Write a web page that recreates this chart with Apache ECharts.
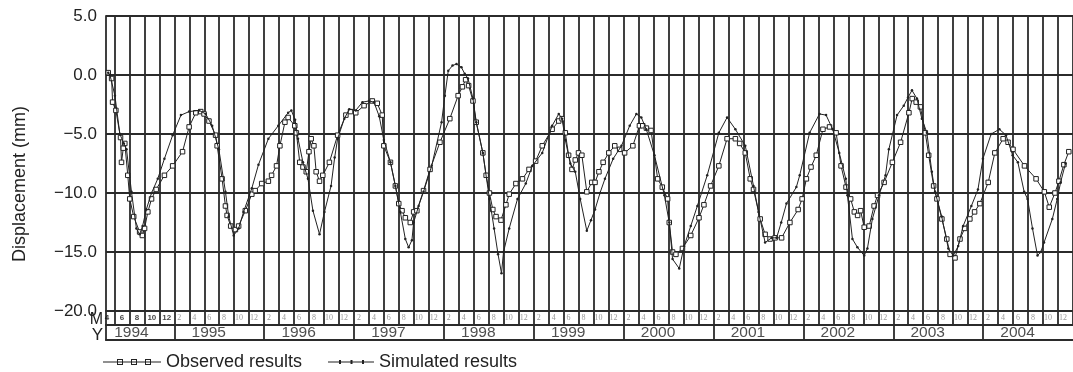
<!DOCTYPE html>
<html><head><meta charset="utf-8">
<script src="https://cdn.jsdelivr.net/npm/echarts@6/dist/echarts.min.js"></script>
<style>html,body{margin:0;padding:0;background:#fff}#c{width:1073px;height:372px}</style>
</head><body><div id="c"></div>
<script>
// x values: months since 1 Jan 1994
const years = [1994,1995,1996,1997,1998,1999,2000,2001,2002,2003,2004];
const monthLabels = ['2','4','6','8','10','12'];
const seriesNames = ['Observed results','Simulated results'];

const obsX = [3.18,3.63,3.76,4.20,4.82,4.95,5.19,5.39,5.79,6.05,6.58,7.37,7.73,8.03,8.47,8.96,9.58,10.68,11.78,13.10,
13.98,14.87,15.53,15.97,16.63,17.51,17.72,18.38,18.83,19.05,19.53,20.16,20.59,21.48,22.35,22.80,23.67,24.56,24.99,25.65,
26.10,26.77,27.20,28.09,28.30,28.75,29.18,29.62,29.98,30.28,30.64,30.94,31.39,31.83,32.71,33.81,34.91,35.53,36.23,37.34,
38.44,39.10,39.76,39.98,40.86,41.52,41.97,42.41,42.85,43.51,43.96,44.39,45.28,46.15,47.47,48.79,49.90,50.47,50.90,51.30,
51.88,52.32,53.20,53.64,54.08,54.53,54.96,55.62,56.28,56.72,57.61,58.49,59.36,60.25,61.13,62.45,63.33,63.78,64.21,64.65,
65.10,65.54,65.97,66.42,67.08,67.74,68.18,68.70,69.26,70.02,70.81,71.47,72.13,73.23,74.11,74.55,75.04,75.66,76.54,77.16,
77.87,78.09,78.53,78.98,79.85,80.96,82.06,82.72,83.61,84.71,85.81,86.92,87.49,88.24,88.90,89.34,90.23,90.89,91.55,92.22,
93.09,94.20,95.30,95.83,96.40,97.02,97.72,98.61,99.49,100.37,101.03,101.69,102.31,102.80,103.24,103.64,104.12,104.78,105.44,105.90,
106.78,107.88,108.98,110.09,110.53,111.06,111.62,112.28,112.73,113.39,113.83,114.49,115.15,115.59,116.25,116.91,117.53,118.23,118.86,119.56,
120.68,121.56,122.67,123.33,123.99,125.52,127.07,128.17,128.83,129.59,130.12,130.78,131.44];
const obsY = [0.2,-0.3,-2.3,-3.0,-5.3,-7.4,-6.2,-5.8,-8.5,-10.5,-12.0,-13.3,-13.6,-13.0,-11.6,-10.5,-9.7,-8.5,-7.7,-6.5,
-4.4,-3.2,-3.1,-3.3,-3.9,-5.1,-6.0,-8.8,-11.1,-11.9,-12.8,-13.1,-12.8,-11.5,-10.1,-9.8,-9.2,-9.0,-8.5,-7.7,
-6.0,-4.0,-3.6,-4.3,-4.9,-7.4,-7.8,-8.2,-6.5,-5.4,-6.0,-8.2,-9.0,-8.5,-7.4,-5.1,-3.4,-3.1,-3.2,-2.6,
-2.2,-2.4,-3.4,-6.0,-7.4,-9.4,-10.9,-11.5,-12.1,-12.5,-11.6,-11.5,-9.8,-8.0,-5.7,-3.7,-1.75,-1.0,-0.4,-0.9,
-2.2,-4.0,-6.6,-8.5,-10.0,-11.4,-12.0,-12.3,-11.0,-10.1,-9.2,-8.8,-8.0,-7.3,-6.0,-4.6,-3.9,-3.7,-4.9,-6.8,
-8.0,-7.2,-6.6,-6.8,-9.9,-9.1,-9.1,-8.2,-7.4,-6.6,-6.0,-6.3,-6.6,-6.0,-4.3,-4.3,-4.5,-4.7,-8.8,-9.5,
-10.5,-12.5,-15.0,-15.2,-14.7,-13.6,-12.1,-11.0,-9.4,-7.7,-5.4,-5.4,-5.8,-6.6,-8.8,-9.7,-12.2,-13.5,-13.9,-13.8,
-13.8,-12.5,-11.4,-10.5,-8.8,-7.8,-6.8,-4.6,-4.4,-4.9,-7.7,-9.5,-10.5,-11.6,-11.9,-11.5,-12.9,-12.8,-11.1,-10.2,
-9.1,-7.4,-5.7,-3.2,-2.0,-2.3,-2.7,-4.9,-6.8,-9.4,-10.5,-12.2,-13.9,-15.2,-15.5,-13.9,-13.0,-12.2,-11.6,-10.9,
-9.1,-6.6,-5.4,-5.7,-6.3,-7.7,-8.8,-9.9,-11.2,-10.0,-9.0,-7.6,-6.5];

const simX = [3.18,3.41,4.07,4.73,5.26,5.62,6.28,6.94,7.37,7.77,8.26,8.96,9.79,10.68,11.78,12.89,13.98,15.30,16.19,17.06,
17.95,18.83,19.27,19.93,20.59,21.25,22.35,23.24,24.56,25.88,27.20,27.63,28.13,28.52,29.18,29.85,30.51,31.39,32.05,32.93,
33.41,33.81,34.70,35.36,36.23,37.12,38.00,38.66,39.36,39.98,40.86,41.52,42.18,42.85,43.29,43.73,43.96,44.62,45.28,46.37,
47.69,48.13,48.58,49.15,49.68,50.34,50.78,51.22,51.88,52.32,53.20,54.08,54.70,55.23,55.69,55.96,56.72,57.83,58.93,59.81,
61.13,62.45,63.33,63.78,64.21,64.87,65.54,66.20,67.08,67.64,68.18,68.84,69.50,70.60,71.71,72.81,73.70,74.36,75.02,76.11,
77.44,78.09,78.53,79.42,80.08,80.96,81.84,83.16,84.71,85.81,86.92,88.24,89.34,90.01,90.89,91.76,92.42,93.04,93.74,95.06,
95.51,96.83,98.15,99.03,99.91,100.79,101.66,101.88,102.55,103.21,104.12,104.55,105.21,106.10,106.97,107.41,108.51,109.40,109.97,110.50,
111.16,111.82,112.49,113.15,113.58,114.47,115.35,116.01,116.67,117.33,118.43,119.31,119.97,121.07,122.17,123.05,123.94,124.64,125.48,125.93,
126.59,127.26,127.70,128.13,129.24,129.90,130.34,131.00];
const simY = [0.2,0.0,-1.75,-5.0,-5.8,-6.3,-9.9,-13.0,-13.5,-12.8,-11.4,-10.0,-8.8,-7.1,-5.1,-3.4,-3.1,-3.0,-3.3,-4.3,
-6.3,-9.9,-12.0,-13.6,-13.0,-11.6,-9.6,-7.6,-5.4,-4.3,-3.2,-3.0,-3.8,-5.4,-7.4,-8.8,-11.5,-13.5,-11.6,-9.4,
-7.0,-5.4,-3.7,-2.9,-3.0,-2.3,-2.2,-2.3,-3.5,-5.5,-7.4,-9.4,-11.6,-13.9,-14.6,-14.0,-12.5,-11.1,-9.9,-7.7,
-4.0,-1.75,0.36,0.8,0.93,0.65,0.1,-0.3,-2.0,-4.0,-6.6,-10.5,-13.0,-15.2,-16.8,-15.0,-13.0,-10.5,-9.2,-7.7,
-6.6,-4.3,-3.3,-3.7,-5.5,-7.5,-8.2,-10.5,-13.2,-12.3,-11.4,-10.0,-8.8,-7.1,-6.0,-4.3,-3.3,-3.6,-4.6,-6.8,
-10.2,-12.5,-15.6,-16.4,-14.5,-12.8,-11.1,-8.5,-4.9,-3.6,-4.6,-6.0,-9.4,-11.6,-14.2,-13.8,-13.8,-12.5,-10.9,-9.5,
-8.5,-4.9,-3.3,-3.4,-4.6,-6.6,-8.8,-10.2,-13.9,-14.6,-15.3,-14.7,-12.2,-10.2,-8.5,-6.3,-3.4,-2.6,-1.9,-1.3,
-2.0,-3.7,-4.9,-8.2,-9.9,-12.0,-14.7,-15.3,-14.5,-12.8,-11.1,-9.7,-7.1,-5.0,-4.6,-5.1,-6.8,-7.4,-9.9,-10.5,
-13.0,-15.3,-15.0,-14.2,-12.2,-10.5,-9.1,-7.5];

const XMIN = 2.88, XMAX = 132;
const PXM = 7.565;               // pixels per month (layout)
const GRID_LEFT = 106;
const GRID_W = (XMAX - XMIN) * PXM;
const INK = '#222', GRIDC = '#2b2b2b', GW = 1.8;

const obsData = obsX.map((x, i) => [x, obsY[i]]);
const simData = simX.map((x, i) => [x, simY[i]]);

const evenMonths = [];
for (let m = Math.ceil(XMIN / 2) * 2; m <= XMAX; m += 2) evenMonths.push(m);
const yearBounds = [];
years.forEach((y, i) => { const m = i * 12; if (m > XMIN) yearBounds.push(m); });

const monthLabelData = [];
years.forEach((y, i) => {
  monthLabels.forEach((t, k) => {
    const c = i * 12 + 2 * k + 1;
    if (c < XMIN) return;
    if (i === 0) {
      monthLabelData.push({ value: [c, 0.5, t], label: { color: '#111', fontWeight: 'bold', fontFamily: 'Liberation Sans', fontSize: 8 } });
    } else {
      monthLabelData.push({ value: [c - 0.35, 0.5, t] });
    }
  });
});
const yearLabelData = years.map((y, i) => ({ value: [i === 0 ? XMIN + 3.4 : i * 12 + 4.6, 0.5, String(y)] }));

const vLine = (arr) => ({
  silent: true, symbol: ['none', 'none'], animation: false,
  label: { show: false },
  lineStyle: { type: 'solid', color: GRIDC, width: GW },
  emphasis: { disabled: true },
  data: arr.map(m => ({ xAxis: m }))
});

const fmtY = v => (v < 0 ? '\u2212' : '') + Math.abs(v).toFixed(1);
const font = 'Liberation Sans, Arial, sans-serif';

const xBase = (gi, showLine) => ({
  gridIndex: gi, type: 'value', min: XMIN, max: XMAX,
  axisLine: { show: showLine, onZero: false, lineStyle: { color: GRIDC, width: GW } },
  axisTick: { show: false }, axisLabel: { show: false }, splitLine: { show: false }
});
const yRow = (gi) => ({
  gridIndex: gi, type: 'value', min: 0, max: 1,
  axisLine: { show: true, onZero: false, lineStyle: { color: GRIDC, width: GW } },
  axisTick: { show: false }, axisLabel: { show: false }, splitLine: { show: false }
});

const chart = echarts.init(document.getElementById('c'), null, { renderer: 'canvas' });
chart.setOption({
  animation: false,
  backgroundColor: '#fff',
  textStyle: { fontFamily: font },
  grid: [
    { left: GRID_LEFT, top: 16, width: GRID_W, height: 295 },
    { left: GRID_LEFT, top: 311, width: GRID_W, height: 14 },
    { left: GRID_LEFT, top: 325, width: GRID_W, height: 15 }
  ],
  xAxis: [xBase(0, false), xBase(1, true), xBase(2, true)],
  yAxis: [
    {
      gridIndex: 0, type: 'value', min: -20, max: 5, interval: 5,
      axisLine: { show: true, onZero: false, lineStyle: { color: GRIDC, width: GW } },
      axisTick: { show: false },
      axisLabel: { color: '#222', fontSize: 17, fontFamily: font, margin: 9, formatter: fmtY },
      splitLine: { show: true, lineStyle: { color: GRIDC, width: GW } }
    },
    yRow(1), yRow(2)
  ],
  legend: [
    {
      left: 103, top: 353, itemWidth: 58, itemHeight: 6, padding: 0,
      textStyle: { fontSize: 18, color: '#222', fontFamily: font },
      data: [{ name: seriesNames[0], icon: 'path://M0,3H58V4H0Z M14,0.5H20V6.5H14Z M15,1.5V5.5H19V1.5Z M28,0.5H34V6.5H28Z M29,1.5V5.5H33V1.5Z M42,0.5H48V6.5H42Z M43,1.5V5.5H47V1.5Z',
               itemStyle: { color: INK, borderWidth: 0 } }],
      selectedMode: false
    },
    {
      left: 328, top: 353, itemWidth: 46, itemHeight: 5, padding: 0,
      textStyle: { fontSize: 18, color: '#222', fontFamily: font },
      data: [{ name: seriesNames[1], icon: 'path://M0,2H46V3H0Z M11,0.5H13V4.5H11Z M22.5,0.5H24.5V4.5H22.5Z M34,0.5H36V4.5H34Z',
               itemStyle: { color: INK, borderWidth: 0 } }],
      selectedMode: false
    }
  ],
  graphic: [
    { type: 'text', x: 20, y: 184, rotation: Math.PI / 2,
      style: { text: 'Displacement (mm)', font: '18px Liberation Sans, Arial, sans-serif', fill: '#222', align: 'center', verticalAlign: 'middle' } },
    { type: 'text', x: 103, y: 320,
      style: { text: 'M', font: '16px Liberation Sans, Arial, sans-serif', fill: '#222', align: 'right', verticalAlign: 'middle' } },
    { type: 'text', x: 103, y: 335,
      style: { text: 'Y', font: '17px Liberation Sans, Arial, sans-serif', fill: '#222', align: 'right', verticalAlign: 'middle' } }
  ],
  series: [
    {
      name: 'gridlines', type: 'line', xAxisIndex: 0, yAxisIndex: 0, z: 1,
      data: [[XMIN, -100]], showSymbol: false, silent: true, lineStyle: { width: 0 },
      markLine: vLine(evenMonths)
    },
    {
      name: seriesNames[0], type: 'line', xAxisIndex: 0, yAxisIndex: 0, z: 10,
      data: obsData, symbol: 'rect', symbolSize: 4.5, showAllSymbol: true,
      lineStyle: { color: INK, width: 1 },
      itemStyle: { color: '#fff', borderColor: INK, borderWidth: 1 }
    },
    {
      name: seriesNames[1], type: 'line', xAxisIndex: 0, yAxisIndex: 0, z: 11,
      data: simData, symbol: 'circle', symbolSize: 2.5, showAllSymbol: true,
      lineStyle: { color: INK, width: 1 },
      itemStyle: { color: INK, borderWidth: 0 }
    },
    {
      name: 'monthRow', type: 'scatter', xAxisIndex: 1, yAxisIndex: 1, z: 3, silent: true,
      data: monthLabelData, symbolSize: 1, itemStyle: { color: 'rgba(0,0,0,0)' },
      label: { show: true, position: 'inside', formatter: p => p.value[2], color: '#808080', fontSize: 8, fontFamily: 'Liberation Serif, DejaVu Serif, serif' },
      markLine: vLine(evenMonths)
    },
    {
      name: 'yearRow', type: 'scatter', xAxisIndex: 2, yAxisIndex: 2, z: 3, silent: true,
      data: yearLabelData, symbolSize: 1, itemStyle: { color: 'rgba(0,0,0,0)' },
      label: { show: true, position: 'inside', formatter: p => p.value[2], color: '#222', fontSize: 15.5, fontFamily: font },
      markLine: vLine(yearBounds)
    }
  ]
});
</script>
</body></html>
